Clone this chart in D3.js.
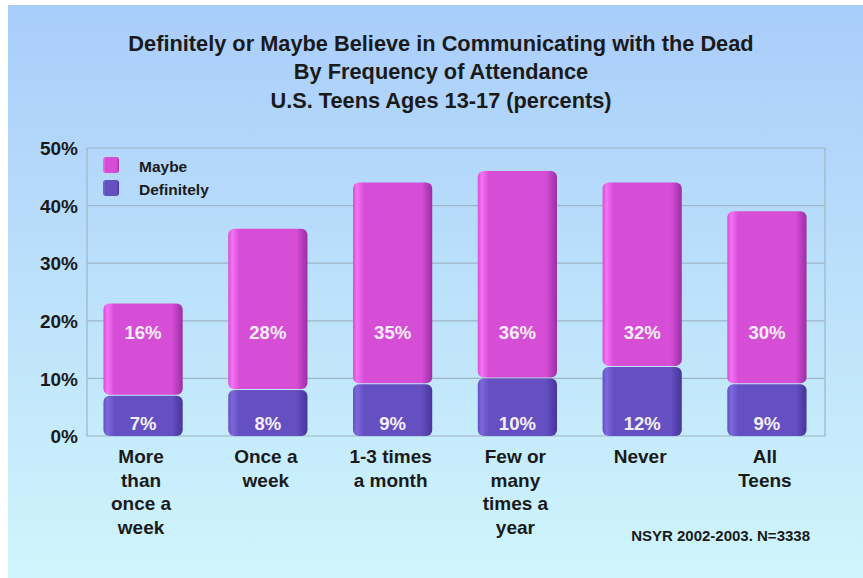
<!DOCTYPE html>
<html>
<head>
<meta charset="utf-8">
<script src="https://cdn.jsdelivr.net/npm/d3@7"></script>
<style>
  html, body { margin: 0; padding: 0; background: #ffffff; }
  svg { display: block; font-family: "Liberation Sans", Arial, sans-serif; }
</style>
</head>
<body>
<svg id="chart" width="863" height="578"></svg>
<script>
const categories = [
  ["More", "than", "once a", "week"],
  ["Once a", "week"],
  ["1-3 times", "a month"],
  ["Few or", "many", "times a", "year"],
  ["Never"],
  ["All", "Teens"]
];
const definitely = [7, 8, 9, 10, 12, 9];
const maybe = [16, 28, 35, 36, 32, 30];
const yTicks = [0, 10, 20, 30, 40, 50];
const seriesNames = ["Maybe", "Definitely"];
const titleLines = [
  "Definitely or Maybe Believe in Communicating with the Dead",
  "By Frequency of Attendance",
  "U.S. Teens Ages 13-17 (percents)"
];
const sourceNote = "NSYR 2002-2003. N=3338";

const svg = d3.select("#chart");
const W = 863, H = 578;

const defs = svg.append("defs");
const bg = defs.append("linearGradient").attr("id", "bg").attr("x1", 0).attr("y1", 0).attr("x2", 0).attr("y2", 1);
bg.append("stop").attr("offset", "0%").attr("stop-color", "#a9cdfa");
bg.append("stop").attr("offset", "100%").attr("stop-color", "#cff5fc");

function barGrad(id, light, base, dark) {
  const g = defs.append("linearGradient").attr("id", id).attr("x1", 0).attr("y1", 0).attr("x2", 1).attr("y2", 0);
  g.append("stop").attr("offset", "0%").attr("stop-color", base);
  g.append("stop").attr("offset", "5%").attr("stop-color", light);
  g.append("stop").attr("offset", "14%").attr("stop-color", base);
  g.append("stop").attr("offset", "86%").attr("stop-color", base);
  g.append("stop").attr("offset", "100%").attr("stop-color", dark);
}
barGrad("gMaybe", "#f472f4", "#d64ed6", "#9a2ea6");
barGrad("gDef", "#7c68dc", "#6550c2", "#46349c");

svg.append("rect").attr("x", 8).attr("y", 5).attr("width", W - 8).attr("height", H - 5).attr("fill", "url(#bg)");

// title
svg.append("g").selectAll("text").data(titleLines).join("text")
  .attr("x", 441).attr("y", (d, i) => [51, 79, 108][i])
  .attr("text-anchor", "middle")
  .attr("font-size", 22).attr("font-weight", "bold").attr("fill", "#1a1a1a")
  .attr("transform", "translate(441,0) scale(0.99,1) translate(-441,0)")
  .text(d => d);

// scales
const plotLeft = 87, plotRight = 825;
const y = d3.scaleLinear().domain([0, 50]).range([436, 148]);
const x = d3.scaleBand().domain(d3.range(categories.length)).range([81, 829]).paddingInner(0.365).paddingOuter(0.18);

// gridlines
svg.append("g").selectAll("line").data(yTicks).join("line")
  .attr("x1", plotLeft).attr("x2", plotRight)
  .attr("y1", d => y(d)).attr("y2", d => y(d))
  .attr("stroke", "#9fb4c4").attr("stroke-width", 1.2);
svg.append("line").attr("x1", plotLeft).attr("x2", plotLeft).attr("y1", y(50)).attr("y2", y(0)).attr("stroke", "#9fb4c4").attr("stroke-width", 1.2);
svg.append("line").attr("x1", plotRight).attr("x2", plotRight).attr("y1", y(50)).attr("y2", y(0)).attr("stroke", "#9fb4c4").attr("stroke-width", 1.2);

// y axis labels
const yAxis = d3.axisLeft(y).tickValues(yTicks).tickFormat(d => d + "%").tickSize(0).tickPadding(0);
const yg = svg.append("g").attr("transform", "translate(78,0)").call(yAxis);
yg.select(".domain").remove();
yg.selectAll("text").attr("font-size", 19).attr("font-weight", "bold").attr("fill", "#1a1a1a")
  .attr("font-family", "'Liberation Sans', Arial, sans-serif").attr("dy", "0.35em");

// bars
const bw = x.bandwidth();
const gBars = svg.append("g");
categories.forEach((c, i) => {
  const x0 = x(i);
  gBars.append("rect")
    .attr("x", x0).attr("y", y(definitely[i]))
    .attr("width", bw).attr("height", y(0) - y(definitely[i]))
    .attr("rx", 6).attr("ry", 6)
    .attr("fill", "url(#gDef)");
  gBars.append("rect")
    .attr("x", x0).attr("y", y(definitely[i] + maybe[i]))
    .attr("width", bw).attr("height", y(definitely[i]) - y(definitely[i] + maybe[i]) - 1)
    .attr("rx", 6).attr("ry", 6)
    .attr("fill", "url(#gMaybe)");
});

// value labels
svg.append("g").selectAll("text").data(definitely).join("text")
  .attr("x", (d, i) => x(i) + bw / 2).attr("y", y(2.2)).attr("dy", "0.35em")
  .attr("text-anchor", "middle").attr("font-size", 18.5).attr("font-weight", "bold").attr("fill", "#f4eefa")
  .text(d => d + "%");
svg.append("g").selectAll("text").data(maybe).join("text")
  .attr("x", (d, i) => x(i) + bw / 2).attr("y", y(17.9)).attr("dy", "0.35em")
  .attr("text-anchor", "middle").attr("font-size", 18.5).attr("font-weight", "bold").attr("fill", "#f8eef8")
  .text(d => d + "%");

// x labels
const xl = svg.append("g");
categories.forEach((lines, i) => {
  const t = xl.append("text").attr("text-anchor", "middle")
    .attr("font-size", 19).attr("font-weight", "bold").attr("fill", "#1a1a1a");
  lines.forEach((ln, j) => {
    t.append("tspan").attr("x", x(i) + bw / 2 - 2).attr("y", 463 + j * 23.5).text(ln);
  });
});

// legend
const legendColors = ["url(#gMaybe)", "url(#gDef)"];
const lg = svg.append("g");
seriesNames.forEach((n, i) => {
  lg.append("rect").attr("x", 103).attr("y", 157 + i * 23).attr("width", 16).attr("height", 16)
    .attr("rx", 3).attr("fill", legendColors[i]);
  lg.append("text").attr("x", 139).attr("y", 167 + i * 23).attr("dy", "0.35em")
    .attr("font-size", 15.5).attr("font-weight", "bold").attr("fill", "#1a1a1a").text(n);
});

// source note
svg.append("text").attr("x", 810).attr("y", 536).attr("dy", "0.35em").attr("text-anchor", "end")
  .attr("font-size", 15).attr("font-weight", "bold").attr("fill", "#1a1a1a").text(sourceNote);
</script>
</body>
</html>
